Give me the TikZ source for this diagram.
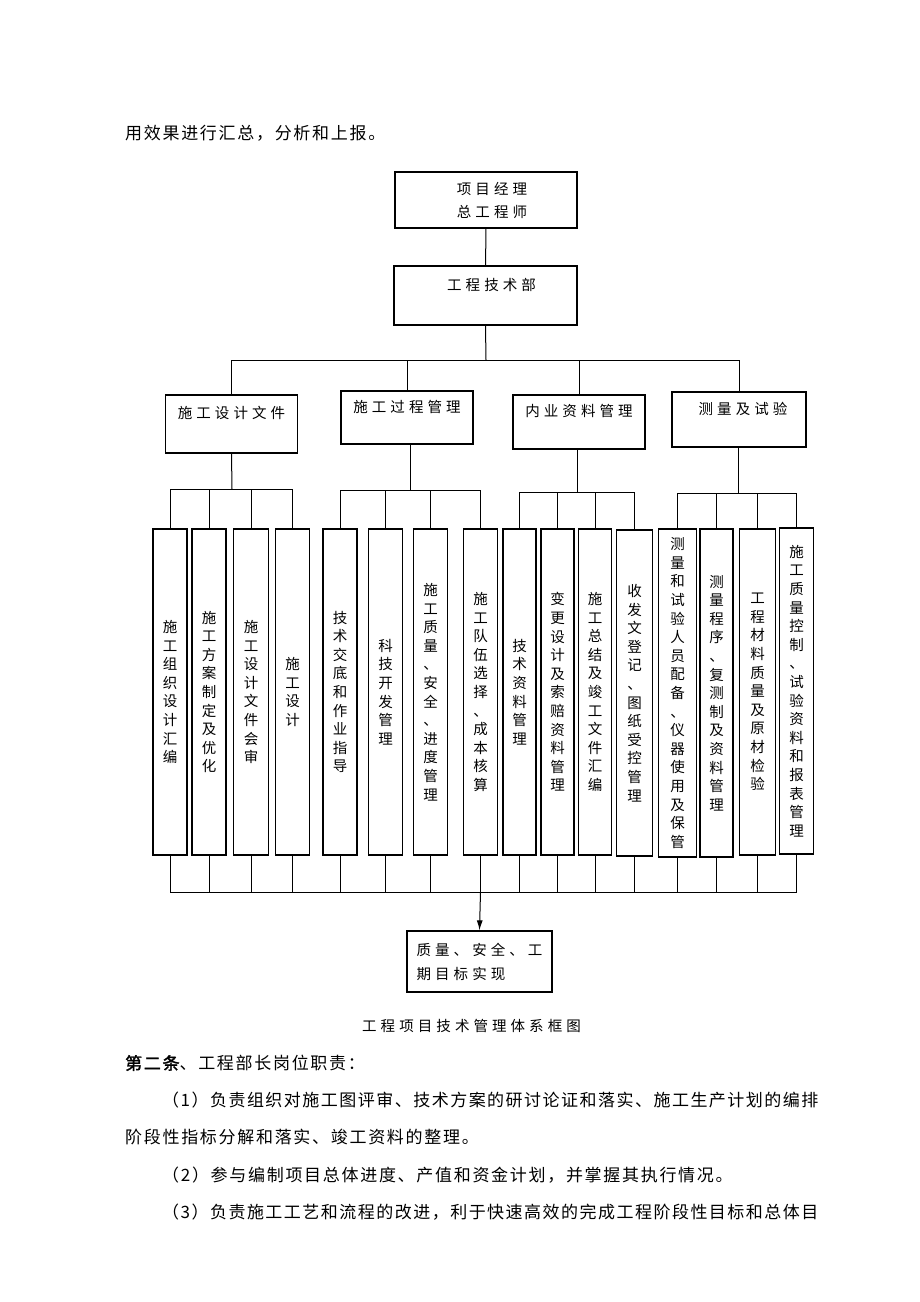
\documentclass[tikz,border=0pt]{standalone}
\usepackage{fontspec}
\usetikzlibrary{arrows.meta}
\newfontfamily\cjk{Noto Sans CJK SC}
\newfontfamily\cjkbf[FakeBold=2]{Noto Sans CJK SC}
\newcommand\boxfont{\cjk\fontsize{14.5}{23}\selectfont\addfontfeature{LetterSpace=28}}
\newcommand\colfont{\cjk\fontsize{14.5}{18.6}\selectfont}
\newcommand\bodyfont{\cjk\fontsize{17}{20}\selectfont\addfontfeature{LetterSpace=10}}
% one character per line
\makeatletter
\def\vtext#1{\vt@aux#1\@nil}
\def\vt@aux#1#2\@nil{#1\ifx\relax#2\relax\else\\\vt@aux#2\@nil\fi}
\makeatother
\tikzset{%
  box/.style     = {draw, line width=1.3pt, inner sep=0pt, align=center, font=\boxfont},%
  groupbox/.style= {box, minimum width=132pt, minimum height=55pt},%
  colbox/.style  = {box, minimum width=34pt, minimum height=326pt, font=\colfont},%
  link/.style    = {line width=1pt},%
  body/.style    = {anchor=west, inner sep=0pt, font=\bodyfont},%
  fullline/.style= {body, font=\bodyfont\addfontfeature{LetterSpace=8.7}}%
}
\begin{document}
\begin{tikzpicture}[x=1pt,y=-1pt]
	\useasboundingbox[fill=white] (0,0) rectangle (920,1302);
	\node[body] (intro) at (125,133) {用效果进行汇总，分析和上报。};
	% top of the chart
	\node[box, minimum width=182pt, minimum height=56pt] (pm) at (486,200) {\hspace*{12pt}项目经理\\\hspace*{12pt}总工程师};
	\node[box, minimum width=183pt, minimum height=59pt] (dept) at (485.5,295.5) {\hspace*{12pt}工程技术部\\\mbox{}};
	\node[groupbox, minimum height=58pt] (g1) at (231.5,424) {施工设计文件\\\mbox{}};
	\node[groupbox, minimum height=53pt] (g2) at (407,417.5) {施工过程管理\\\mbox{}};
	\node[groupbox, minimum height=54pt] (g3) at (579,422) {内业资料管理\\\mbox{}};
	\node[groupbox, minimum width=134pt] (g4) at (739,419.5) {\hspace*{8pt}测量及试验\\\mbox{}};
	% columns
	\node[colbox] (a1) at (170,692) {\vtext{施工组织设计汇编}};
	\node[colbox] (a2) at (209,692) {\vtext{施工方案制定及优化}};
	\node[colbox, minimum width=35pt] (a3) at (251,692) {\vtext{施工设计文件会审}};
	\node[colbox] (a4) at (292.5,692) {\vtext{施工设计}};
	\node[colbox] (b1) at (340,692) {\vtext{技术交底和作业指导}};
	\node[colbox] (b2) at (385.5,692) {\vtext{科技开发管理}};
	\node[colbox] (b3) at (430.5,692) {\vtext{施工质量、安全、进度管理}};
	\node[colbox] (b4) at (480.5,692) {\vtext{施工队伍选择、成本核算}};
	\node[colbox, minimum width=33pt] (c1) at (519.5,692) {\vtext{技术资料管理}};
	\node[colbox, minimum width=33pt] (c2) at (557.5,692) {\vtext{变更设计及索赔资料管理}};
	\node[colbox, minimum width=33pt] (c3) at (595,692) {\vtext{施工总结及竣工文件汇编}};
	\node[colbox, minimum width=36.5pt] (c4) at (634.5,693) {\vtext{收发文登记、图纸受控管理}};
	\node[colbox, minimum width=38pt, minimum height=328pt] (d1) at (677.5,693) {\vtext{测量和试验人员配备、仪器使用及保管}};
	\node[colbox, minimum width=33pt, minimum height=328pt] (d2) at (716.5,693) {\vtext{测量程序、复测制及资料管理}};
	\node[colbox, minimum width=36pt] (d3) at (757.5,692) {\vtext{工程材料质量及原材检验}};
	\node[colbox] (d4) at (796.5,691) {\vtext{施工质量控制、试验资料和报表管理}};
	\node[box, align=left, minimum width=145pt, minimum height=61pt, font=\boxfont\fontsize{14.5}{24}\selectfont] (goal) at (479.5,961.5) {质量、安全、工\\期目标实现};
	% connectors
	\coordinate (top) at (486,360);
	\coordinate (s1) at (232,489);
	\coordinate (s2) at (410,490);
	\coordinate (s3) at (577,492);
	\coordinate (s4) at (738,493);
	\coordinate (low) at (480.5,892);
	\draw[link] (pm) -- (dept);
	\draw[link] (dept.south) -- (top);
	\draw[link] (g1.north) |- (g4.north |- top) -- (g4.north);
	\draw[link] (g2.north) -- (g2.north |- top);
	\draw[link] (g3.north) -- (g3.north |- top);
	\draw[link] (g1.south) -- (s1);
	\draw[link] (a1.north) |- (a4.north |- s1) -- (a4.north);
	\draw[link] (g2.south -| s2) -- (s2);
	\draw[link] (b1.north) |- (b4.north |- s2) -- (b4.north);
	\draw[link] (g3.south -| s3) -- (s3);
	\draw[link] (c1.north) |- (c4.north |- s3) -- (c4.north);
	\draw[link] (g4.south -| s4) -- (s4);
	\draw[link] (d1.north) |- (d4.north |- s4) -- (d4.north);
	\foreach \n/\s in {a2/s1,a3/s1,b2/s2,b3/s2,c2/s3,c3/s3,d2/s4,d3/s4}
		\draw[link] (\n.north) -- (\n.north |- \s);
	\draw[link] (a1.south) |- (d4.south |- low) -- (d4.south);
	\foreach \n in {a2,a3,a4,b1,b2,b3,b4,c1,c2,c3,c4,d1,d2,d3}
		\draw[link] (\n.south) -- (\n.south |- low);
	\draw[link, -{Latex[length=10pt,width=6pt]}] (low) -- (goal.north);
	% text below the chart
	\node[body, font=\boxfont] (caption) at (362,1026) {工程项目技术管理体系框图};
	\node[body] (art) at (125,1063) {{\cjkbf\fontsize{17}{20}\selectfont\addfontfeature{LetterSpace=10}第二条}、工程部长岗位职责：};
	\node[fullline] (p1) at (162,1100) {（1）负责组织对施工图评审、技术方案的研讨论证和落实、施工生产计划的编排};
	\node[body] (p1b) at (125,1137) {阶段性指标分解和落实、竣工资料的整理。};
	\node[body] (p2) at (162,1175) {（2）参与编制项目总体进度、产值和资金计划，并掌握其执行情况。};
	\node[fullline] (p3) at (162,1212) {（3）负责施工工艺和流程的改进，利于快速高效的完成工程阶段性目标和总体目};
\end{tikzpicture}
\end{document}
